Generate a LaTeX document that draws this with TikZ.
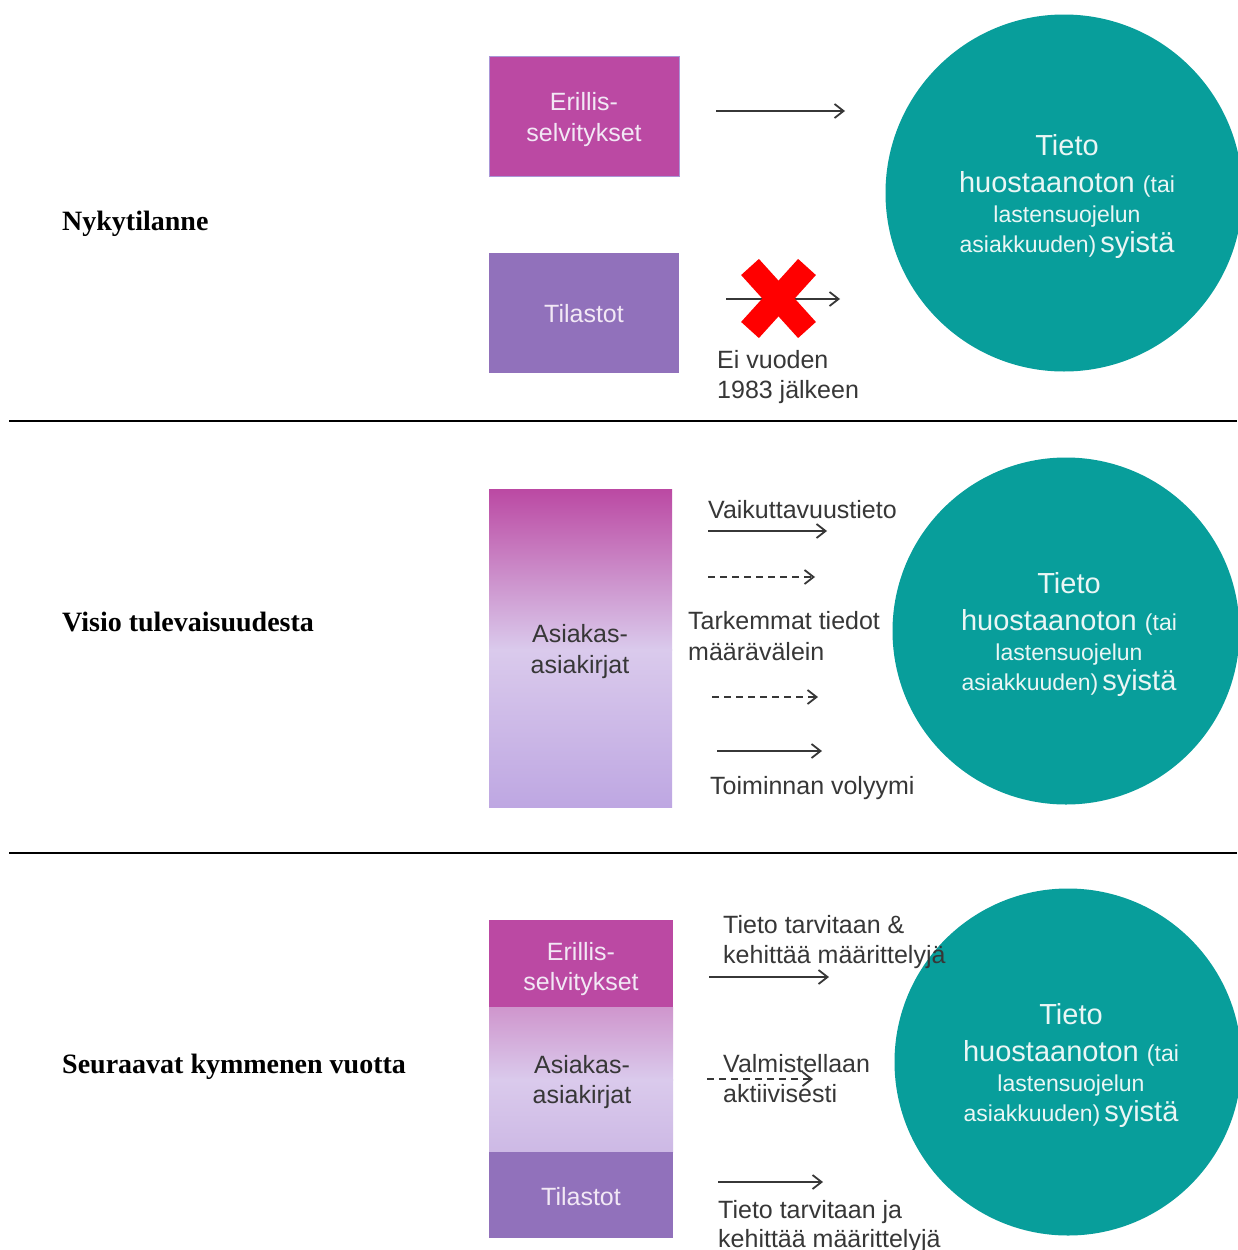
\documentclass[tikz,border=0pt]{standalone}
\usepackage{fontspec}
\setmainfont{Liberation Serif}
\newfontfamily\sansf{Liberation Sans}
\usetikzlibrary{arrows.meta}
\definecolor{mag}{RGB}{187,73,163}
\definecolor{magl}{RGB}{207,150,205}
\definecolor{purp}{RGB}{145,113,187}
\definecolor{tealc}{RGB}{8,158,155}
\definecolor{lblc}{RGB}{55,55,55}
\definecolor{boxtxt}{RGB}{242,232,245}
\definecolor{circtxt}{RGB}{234,246,245}
\definecolor{lav}{RGB}{218,202,236}
\definecolor{lavb}{RGB}{190,167,226}
\definecolor{lavm}{RGB}{205,185,229}
\definecolor{edgec}{RGB}{170,150,215}
\newcommand{\bigf}{\fontsize{29}{33}\selectfont}
\newcommand{\smallf}{\fontsize{23}{27}\selectfont}
\begin{document}
\begin{tikzpicture}[x=1pt,y=-1pt,
  heading/.style={font=\fontsize{28}{32}\selectfont\bfseries, anchor=base west, inner sep=0},
  lbl/.style={font=\sansf\fontsize{25}{31}\selectfont, text=lblc, anchor=base west, inner sep=0},
  boxtext/.style={font=\sansf\fontsize{25}{31}\selectfont, text=boxtxt, anchor=base, inner sep=0},
  darktext/.style={font=\sansf\fontsize{25}{31}\selectfont, text=lblc, anchor=base, inner sep=0},
  flow/.style={draw=lblc, line width=1.8pt, -{Straight Barb[length=9pt,width=14pt,line width=1.8pt]}},
  flowdash/.style={flow, dash pattern=on 7pt off 5pt},
  target/.style={circle, fill=tealc, inner sep=0, minimum size=#1},
  ctext/.style={font=\sansf, text=circtxt, anchor=base, inner sep=0},
  sep/.style={draw=black, line width=1.5pt},
  boxedge/.style={draw=edgec, line width=0.8pt}
]
\fill[white] (0,0) rectangle (1237,1250);
\useasboundingbox (0,0) rectangle (1237,1250);

% separators
\coordinate (s1a) at (9,421); \coordinate (s1b) at (1237,421);
\coordinate (s2a) at (9,853); \coordinate (s2b) at (1237,853);
\draw[sep] (s1a) -- (s1b);
\draw[sep] (s2a) -- (s2b);

% headings
\node[heading] (h1) at (62,230) {Nykytilanne};
\node[heading] (h2) at (62,631) {Visio tulevaisuudesta};
\node[heading] (h3) at (62,1073) {Seuraavat kymmenen vuotta};

% circles
\node[target=357pt] (c1) at (1064,193) {};
\node[target=347pt] (c2) at (1066,631) {};
\node[target=347pt] (c3) at (1068,1062) {};
\foreach \nm/\cx/\cy in {c1/1067/193, c2/1069/631, c3/1071/1062}{
  \node[ctext] (\nm t1) at (\cx,\cy-38) {\bigf Tieto};
  \node[ctext] (\nm t2) at (\cx,\cy-1) {\bigf huostaanoton \smallf(tai};
  \node[ctext] (\nm t3) at (\cx,\cy+29) {\smallf lastensuojelun};
  \node[ctext] (\nm t4) at (\cx,\cy+59) {\smallf asiakkuuden)\,\bigf syistä};
}

% ---------- section 1
\fill[mag] (489,56) rectangle (679,176);
\draw[boxedge] (489,56) rectangle (679,176);
\node[inner sep=0, minimum width=190pt, minimum height=120pt] (e1) at (584,116) {};
\node[boxtext] (e1a) at (584,110) {Erillis-};
\node[boxtext] (e1b) at (584,141) {selvitykset};
\fill[purp] (489,253) rectangle (679,373);
\node[inner sep=0, minimum width=190pt, minimum height=120pt] (t1) at (584,313) {};
\node[boxtext] (t1a) at (584,322) {Tilastot};

\coordinate (a1s) at (716,111); \coordinate (a1e) at (845,111);
\draw[flow] (a1s) -- (a1e);
\coordinate (a2s) at (726,299); \coordinate (a2e) at (840,299);
\draw[flow] (a2s) -- (a2e);
% red cross
\coordinate (x1) at (750,267); \coordinate (x2) at (807,330);
\coordinate (x3) at (807,267); \coordinate (x4) at (750,330);
\draw[red, line width=24pt] (x1) -- (x2);
\draw[red, line width=24pt] (x3) -- (x4);
\node[lbl] (l1a) at (717,368) {Ei vuoden};
\node[lbl] (l1b) at (717,398) {1983 jälkeen};

% ---------- section 2
\shade[top color=mag, bottom color=lav] (489,489) rectangle (672,650);
\shade[top color=lav, bottom color=lavb] (489,649.5) rectangle (672,807);
\node[inner sep=0, minimum width=183pt, minimum height=318pt] (b2) at (580.5,648) {};
\node[darktext] (b2a) at (580,642) {Asiakas-};
\node[darktext] (b2b) at (580,673) {asiakirjat};

\node[lbl] (l2a) at (708,518) {Vaikuttavuustieto};
\coordinate (v1s) at (708,531); \coordinate (v1e) at (827,531);
\draw[flow] (v1s) -- (v1e);
\coordinate (v2s) at (708,577); \coordinate (v2e) at (815,577);
\draw[flowdash] (v2s) -- (v2e);
\node[lbl] (l2b) at (688,629) {Tarkemmat tiedot};
\node[lbl] (l2c) at (688,660) {määrävälein};
\coordinate (v3s) at (712,697); \coordinate (v3e) at (818,697);
\draw[flowdash] (v3s) -- (v3e);
\coordinate (v4s) at (717,751); \coordinate (v4e) at (822,751);
\draw[flow] (v4s) -- (v4e);
\node[lbl] (l2d) at (710,794) {Toiminnan volyymi};

% ---------- section 3
\fill[mag] (489,920) rectangle (673,1008);
\shade[top color=magl, bottom color=lav] (489,1007.5) rectangle (673,1080);
\shade[top color=lav, bottom color=lavm] (489,1079.5) rectangle (673,1152);
\fill[purp] (489,1152) rectangle (673,1238);
\node[inner sep=0, minimum width=184pt, minimum height=318pt] (b3) at (581,1079) {};
\node[boxtext] (e3a) at (581,960) {Erillis-};
\node[boxtext] (e3b) at (581,990) {selvitykset};
\node[darktext] (b3a) at (582,1073) {Asiakas-};
\node[darktext] (b3b) at (582,1103) {asiakirjat};
\node[boxtext] (t3a) at (581,1205) {Tilastot};

\node[lbl] (l3a) at (723,933) {Tieto tarvitaan \&};
\node[lbl] (l3b) at (723,963) {kehittää määrittelyjä};
\coordinate (w1s) at (709,977); \coordinate (w1e) at (829,977);
\draw[flow] (w1s) -- (w1e);
\coordinate (w2s) at (707,1079); \coordinate (w2e) at (813,1079);
\draw[flowdash] (w2s) -- (w2e);
\node[lbl] (l3c) at (723,1072) {Valmistellaan};
\node[lbl] (l3d) at (723,1102) {aktiivisesti};
\coordinate (w3s) at (718,1182); \coordinate (w3e) at (823,1182);
\draw[flow] (w3s) -- (w3e);
\node[lbl] (l3e) at (718,1218) {Tieto tarvitaan ja};
\node[lbl] (l3f) at (718,1247) {kehittää määrittelyjä};
\end{tikzpicture}
\end{document}
